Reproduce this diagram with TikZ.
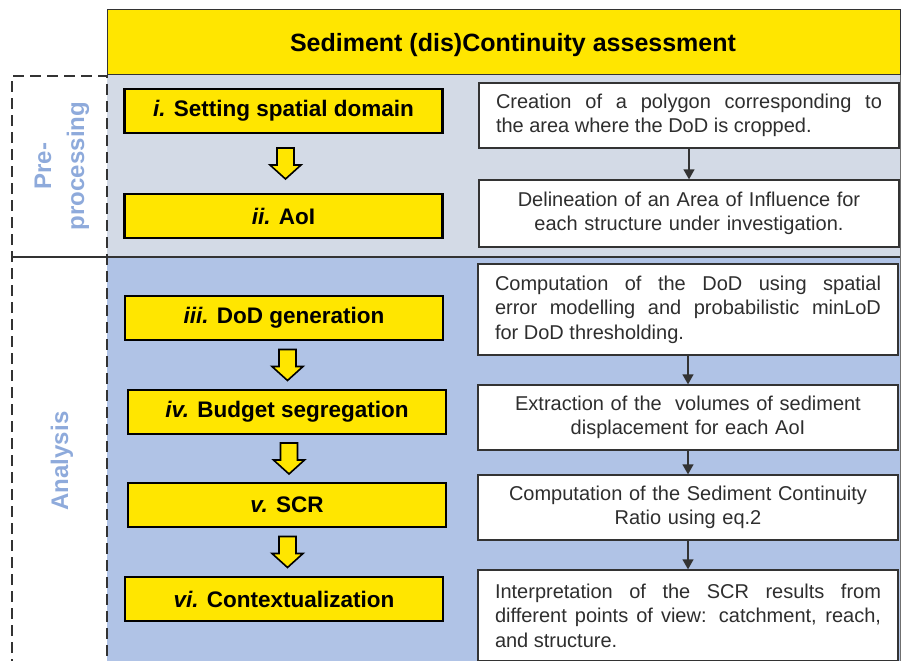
\documentclass[tikz,border=0pt]{standalone}
\usepackage{fontspec}
\setmainfont{Liberation Sans}
\usetikzlibrary{calc, arrows.meta}

\definecolor{stepyellow}{HTML}{FFE600}
\definecolor{prepanel}{HTML}{D3DAE6}
\definecolor{anapanel}{HTML}{B0C3E6}
\definecolor{phaseblue}{HTML}{8EAADB}
\definecolor{framegrey}{HTML}{333333}
\definecolor{textgrey}{HTML}{2E2E2E}

\begin{document}
\begin{tikzpicture}[x=1pt, y=-1pt,
    stepbox/.style={draw=black, line width=2.2pt, fill=stepyellow, minimum width=318pt, minimum height=44pt, inner sep=0pt, font=\fontsize{22.5}{27}\selectfont\bfseries},
    descbox/.style={draw=framegrey, line width=1.3pt, fill=white, text width=386pt, inner xsep=17pt, inner ysep=0pt, text=textgrey, font=\fontsize{20}{24.5}\selectfont},
    flow/.style={-{Triangle[width=11pt,length=10pt]}, line width=1.3pt, draw=framegrey},
    phase/.style={dash pattern=on 11pt off 6pt, line width=1.5pt, draw=framegrey},
    phaselabel/.style={rotate=90, text=phaseblue, align=center, font=\fontsize{24}{33}\selectfont\bfseries},
    downarrow/.pic={\draw[line width=1.6pt, fill=stepyellow, line join=miter]
        (-8.5,-15.5) -- (8.5,-15.5) -- (8.5,1.5) -- (15.5,1.5) -- (0,15.5) -- (-15.5,1.5) -- (-8.5,1.5) -- cycle;}]

        \useasboundingbox (0,0) rectangle (903,661);

        % the two phase panels behind the steps
        \fill[prepanel] (107,75) rectangle (900,257);
        \fill[anapanel] (107,257) rectangle (900,670);
        \draw[line width=1pt, draw=framegrey!70] (900,75) -- (900,670);
        \draw[line width=1.5pt, draw=framegrey] (12,257) -- (900,257);

        % dashed frames of the phases on the left
        \draw[phase] (12,670) -- (12,76) -- (107,76) -- (107,670);
        \draw[phase] (12,257) -- (107,257);
        \node[phaselabel] (pre) at (62,166) {Pre-\\processing};
        \node[phaselabel] (ana) at (62,461) {Analysis};

        % title bar
        \draw[draw=framegrey, line width=1pt, fill=stepyellow] (107,10) rectangle (900,75);
        \node[font=\fontsize{25}{30}\selectfont\bfseries] (title) at (513,45) {Sediment (dis)Continuity assessment};

        % steps
        \node[stepbox] (s1) at (283.5,111) {\textit{i.} Setting spatial domain};
        \node[stepbox] (s2) at (283.5,216) {\textit{ii.} AoI};
        \node[stepbox] (s3) at (284,318) {\textit{iii.} DoD generation};
        \node[stepbox] (s4) at (287,412) {\textit{iv.} Budget segregation};
        \node[stepbox] (s5) at (287,505) {\textit{v.} SCR};
        \node[stepbox] (s6) at (284,599) {\textit{vi.} Contextualization};

        \foreach \a/\b in {s1/s2, s3/s4, s4/s5, s5/s6}
            \pic at ($(\a.south)!0.5!(\b.north)+(2,0)$) {downarrow};

        % descriptions of the steps
        \node[descbox, minimum height=65pt, align=justify] (d1) at (689,115.5)
            {Creation of a polygon corresponding to\linebreak the area where the DoD is cropped.};
        \node[descbox, minimum height=67pt, align=center] (d2) at (689,213.5)
            {Delineation of an Area of Influence for\\each structure under investigation.};
        \node[descbox, minimum height=91pt, align=justify] (d3) at (688,309.5)
            {Computation of the DoD using spatial\linebreak error modelling and probabilistic minLoD\linebreak for DoD thresholding.};
        \node[descbox, minimum height=65pt, align=center] (d4) at (688,417.5)
            {Extraction of the \ volumes of sediment\\displacement for each AoI};
        \node[descbox, minimum height=65pt, align=center] (d5) at (688,507.5)
            {Computation of the Sediment Continuity\\Ratio using eq.2};
        \node[descbox, minimum height=91pt, align=justify] (d6) at (688,615.5)
            {Interpretation of the SCR results from\linebreak different points of view: catchment, reach,\linebreak and structure.};

        \foreach \a/\b in {d1/d2, d3/d4, d4/d5, d5/d6}
            \draw[flow] (\a.south) -- (\b.north);

\end{tikzpicture}
\end{document}
